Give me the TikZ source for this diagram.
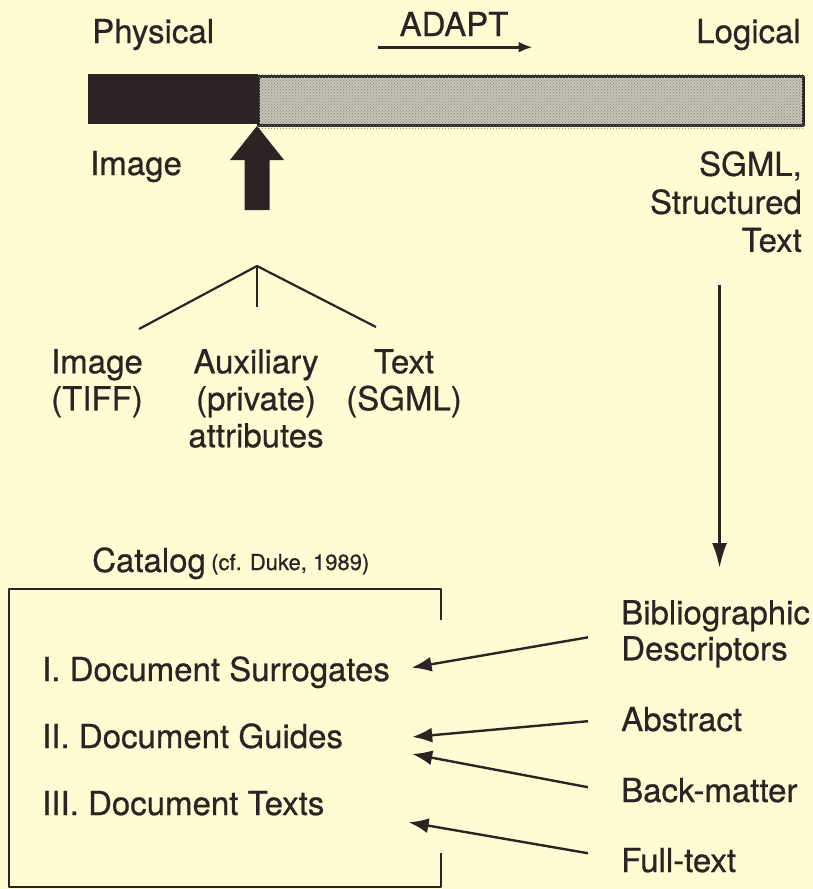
\documentclass[tikz,border=0pt]{standalone}
\usepackage{fontspec}
\setmainfont[FakeBold=0.6]{TeX Gyre Heros}
\usetikzlibrary{arrows.meta,calc,patterns}
\definecolor{bg}{HTML}{FEFCD3}
\definecolor{ink}{HTML}{2B2324}
\definecolor{barlight}{HTML}{C6C3B5}
\begin{document}
\begin{tikzpicture}[x=1pt,y=-1pt,line join=round,
  txt/.style={inner sep=0pt,text=ink,font=\fontsize{33}{37}\selectfont},
  small/.style={inner sep=0pt,text=ink,font=\fontsize{22}{24}\selectfont},
  ln/.style={draw=ink,line width=2.4pt},
  arr/.style={ln,-{Latex[length=20pt,width=15pt]}}]
\fill[bg] (0,0) rectangle (813,889);
\useasboundingbox (0,0) rectangle (813,889);

% top labels
\node[txt,anchor=base west] (phys) at (92,43) {Physical};
\node[txt,anchor=base] (adapt) at (454,36) {ADAPT};
\node[txt,anchor=base east] (logi) at (801,43) {Logical};
\draw[ln,line width=2.7pt,-{Latex[length=14pt,width=11pt]}]
  ($(adapt.south west)+(-21,11)$) -- ($(adapt.south east)+(24,11)$);

% bar
\node[fill=barlight,draw=ink,line width=2.6pt,minimum width=545pt,minimum height=49pt,
  anchor=north west,inner sep=0pt] (lightbar) at (257,75) {};
\fill[pattern=crosshatch dots,pattern color=ink!55]
  ([shift={(1.5,-1.5)}]lightbar.north west) rectangle ([shift={(-1.5,1.5)}]lightbar.south east);
\node[fill=ink,minimum width=170pt,minimum height=50pt,anchor=north west,inner sep=0pt]
  (darkbar) at (88,74) {};

% big arrow up
\fill[ink] (257,126) -- (284,160) -- (269.5,160) -- (269.5,210) -- (244.5,210)
  -- (244.5,160) -- (230,160) -- cycle;

\node[txt,anchor=base west] (img) at (90,175) {Image};
\node[txt,anchor=north east,align=right,font=\fontsize{33}{38}\selectfont] (sgml) at (802,151)
  {SGML,\\Structured\\Text};

% tree
\coordinate (apex) at (257,266);
\coordinate (tl) at (139,329);
\coordinate (tm) at (257,307);
\coordinate (tr) at (376,327);
\draw[ln,line width=2.2pt] (tl) -- (apex) -- (tr);
\draw[ln,line width=2.2pt] (apex) -- (tm);
\node[txt,anchor=north,align=center] (timg) at (97,349) {Image\\(TIFF)};
\node[txt,anchor=north,align=center] (taux) at (256,349) {Auxiliary\\(private)\\attributes};
\node[txt,anchor=north,align=center] (ttext) at (404,349) {Text\\(SGML)};

% right column
\node[txt,anchor=north west,align=left,font=\fontsize{33}{36}\selectfont] (bib) at (621,600)
  {Bibliographic\\Descriptors};
\node[txt,anchor=base west] (abs) at (621,731) {Abstract};
\node[txt,anchor=base west] (back) at (621,802) {Back-matter};
\node[txt,anchor=base west] (full) at (621,872) {Full-text};

\draw[arr,-{Latex[length=25pt,width=15pt]}] ($(sgml.south -| bib.north)+(4,32)$) -- ($(bib.north)+(4,-32)$);

% catalog
\node[txt,anchor=base west] (cat) at (92,572) {Catalog};
\node[small,anchor=base west] (cite) at (211,570) {(cf. Duke, 1989)};
\draw[ln] (441,620) -- (441,589) -- (9,589) -- (9,887) -- (441,887) -- (441,853);

\node[txt,anchor=base west] (i1) at (42,681) {I. Document Surrogates};
\node[txt,anchor=base west] (i2) at (42,748) {II. Document Guides};
\node[txt,anchor=base west] (i3) at (42,815) {III. Document Texts};

\draw[arr] ($(bib.west)+(-33,3.5)$) -- ($(i1.east)+(21.5,-4.6)$);
\draw[arr] ($(abs.west)+(-33,2)$) -- ($(i2.east)+(69,1)$);
\draw[arr] ($(back.west)+(-33,-3)$) -- ($(i2.east)+(69,18)$);
\draw[arr] ($(full.west)+(-33,-7)$) -- ($(i3.east)+(84,19)$);
\end{tikzpicture}
\end{document}
